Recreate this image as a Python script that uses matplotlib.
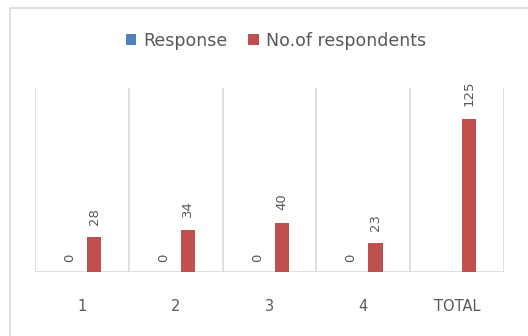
import numpy as np
import matplotlib.pyplot as plt
from matplotlib.patches import Rectangle

categories = ['1', '2', '3', '4', 'TOTAL']
response = [0, 0, 0, 0, None]
respondents = [28, 34, 40, 23, 125]

blue = '#4F81BD'
red = '#C0504D'
txt = '#595959'
grid = '#D9D9D9'

fig = plt.figure(figsize=(5.28, 3.36), dpi=100)
fig.patches.append(Rectangle((10/528, -0.1), 1.2, 1 - 8/336 + 0.1, transform=fig.transFigure,
                             fill=False, ec=grid, lw=1.2))
ax = fig.add_axes([35/528, 1 - 271.5/336, (504 - 35)/528, (271.5 - 88)/336])

x = np.arange(len(categories))
w = 0.15
off = 0.13

resp_vals = [v if v is not None else 0 for v in response]
ax.bar(x - off, resp_vals, w, color=blue, label='Response')
ax.bar(x + off, respondents, w, color=red, label='No.of respondents')

for i, v in enumerate(response):
    if v is None:
        continue
    ax.annotate(str(v), (x[i] - off, v), xytext=(0, 7), textcoords='offset points',
                rotation=90, ha='center', va='bottom', fontsize=9.5, color=txt)
for i, v in enumerate(respondents):
    ax.annotate(str(v), (x[i] + off, v), xytext=(0, 9), textcoords='offset points',
                rotation=90, ha='center', va='bottom', fontsize=9.5, color=txt)

ax.set_xlim(-0.5, len(categories) - 0.5)
ax.set_ylim(0, 150)
for b in np.arange(len(categories) + 1) - 0.5:
    ax.axvline(b, color=grid, lw=1.2, zorder=0)

for s in ax.spines.values():
    s.set_visible(False)
ax.axhline(0, color=grid, lw=1.2, zorder=0)
ax.set_yticks([])
ax.set_xticks(x)
ax.set_xticklabels(categories, fontsize=10.5, color=txt)
ax.tick_params(axis='x', length=0, pad=20)

fig.legend(loc='center', bbox_to_anchor=(276/528, 1 - 41/336), ncol=2, frameon=False,
           fontsize=12.5, handlelength=0.6, handleheight=0.6, handletextpad=0.4,
           columnspacing=1.2, labelcolor=txt)

fig.savefig('out.png', dpi=100)
